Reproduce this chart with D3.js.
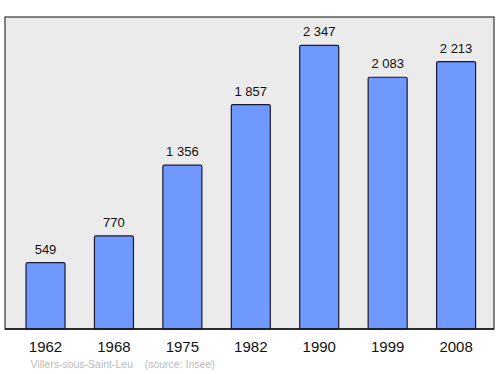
<!DOCTYPE html>
<html>
<head>
<meta charset="utf-8">
<script src="https://cdn.jsdelivr.net/npm/d3@7"></script>
<style>
  body { margin: 0; background: #fff; }
  text { font-family: "Liberation Sans", Arial, sans-serif; }
</style>
</head>
<body>
<div id="container"></div>
<script>
// Population by census year
const years = ["1962", "1968", "1975", "1982", "1990", "1999", "2008"];
const population = [549, 770, 1356, 1857, 2347, 2083, 2213];
const valueLabels = ["549", "770", "1 356", "1 857", "2 347", "2 083", "2 213"];
const footer = "Villers-sous-Saint-Leu    (source: Insee)";

const width = 500;
const height = 374;
const frameLeft = 5, frameTop = 17, frameRight = 494, frameBottom = 329;

const svg = d3.select("#container").append("svg")
    .attr("width", width)
    .attr("height", height);

// background frame
svg.append("rect")
    .attr("x", frameLeft)
    .attr("y", frameTop)
    .attr("width", frameRight - frameLeft)
    .attr("height", frameBottom - frameTop)
    .attr("fill", "#ebebeb")
    .attr("stroke", "#333")
    .attr("stroke-width", 1.2);

const x = d3.scaleBand()
    .domain(years)
    .range([11.3, 490.3])
    .paddingInner(0.43)
    .paddingOuter(0.215);

const y = d3.scaleLinear()
    .domain([0, d3.max(population) * 1.1])
    .range([frameBottom, frameTop]);

const data = years.map((yr, i) => ({ year: yr, value: population[i], label: valueLabels[i] }));

svg.append("g").selectAll("rect")
    .data(data)
    .join("rect")
    .attr("x", d => x(d.year))
    .attr("y", d => y(d.value))
    .attr("width", x.bandwidth())
    .attr("height", d => y(0) - y(d.value))
    .attr("rx", 1.5)
    .attr("fill", "#7099ff")
    .attr("stroke", "#1a1a2e")
    .attr("stroke-width", 1.2);

// value labels
svg.append("g").selectAll("text")
    .data(data)
    .join("text")
    .attr("x", d => x(d.year) + x.bandwidth() / 2)
    .attr("y", d => y(d.value) - 9)
    .attr("text-anchor", "middle")
    .attr("font-size", 13)
    .attr("fill", "#111")
    .text(d => d.label);

// redraw the bottom line over bars
svg.append("line")
    .attr("x1", frameLeft).attr("x2", frameRight)
    .attr("y1", frameBottom).attr("y2", frameBottom)
    .attr("stroke", "#111")
    .attr("stroke-width", 1.5);

// year axis
const xAxis = svg.append("g")
    .attr("transform", `translate(0,${frameBottom})`)
    .call(d3.axisBottom(x).tickSize(0).tickPadding(12));
xAxis.select(".domain").remove();
xAxis.selectAll("text")
    .attr("dy", null)
    .attr("y", 23)
    .attr("font-size", 15)
    .attr("font-family", "Liberation Sans, Arial, sans-serif")
    .attr("fill", "#111");

svg.append("text")
    .attr("x", 30.5)
    .attr("y", 367.5)
    .attr("font-size", 10.5)
    .attr("fill", "#bbb")
    .attr("xml:space", "preserve")
    .style("white-space", "pre")
    .text(footer);
</script>
</body>
</html>
